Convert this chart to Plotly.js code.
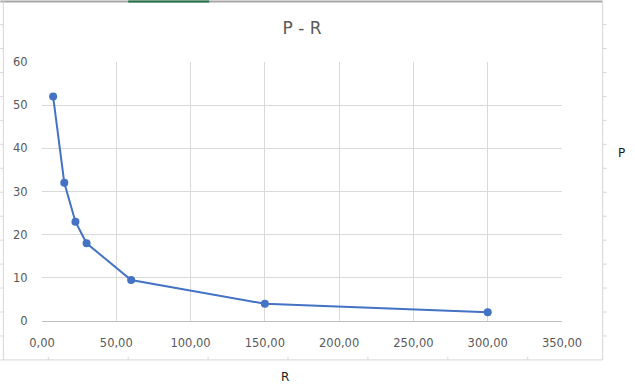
<!DOCTYPE html>
<html>
<head>
<meta charset="utf-8">
<script src="https://cdn.plot.ly/plotly-3.0.1.min.js"></script>
<style>html,body{margin:0;padding:0;background:#fff;}#chart{width:635px;height:388px;}</style>
</head>
<body>
<div id="chart"></div>
<script>
const R = [7.5, 15, 22.5, 30, 60, 150, 300];
const P = [52, 32, 23, 18, 9.5, 4, 2];
const chartTitle = "P - R";
const xTitle = "R";
const yTitle = "P";

const W = 635, H = 388;
const L = 41.7, Rr = 562.3, T = 61.5, B = 321;
const pw = Rr - L, ph = B - T;
const px = x => (x - L) / pw;
const py = y => (B - y) / ph;
const FONT = 'DejaVu Sans, Verdana, sans-serif';

const shapes = [];
function line(x0, y0, x1, y1, color, width) {
  shapes.push({type: 'line', xref: 'paper', yref: 'paper',
    x0: px(x0), y0: py(y0), x1: px(x1), y1: py(y1),
    line: {color: color, width: width}, layer: 'below'});
}
// spreadsheet surroundings
line(0, 1, 603, 1, '#a6a6a6', 2);
line(128, 1, 209, 1, '#217346', 2);
line(3, 0, 3, 360, '#d6d6d6', 1);
line(603, 0, 603, 360, '#d6d6d6', 1);
line(0, 360, 603, 360, '#d6d6d6', 1);
for (let y = 24; y < 360; y += 24) {
  line(0, y, 3, y, '#d6d6d6', 1);
  line(603, y, 607, y, '#d6d6d6', 1);
}
for (let x = 48; x < 603; x += 80) {
  line(x, 357, x, 360, '#d6d6d6', 1);
}

const trace = {
  x: R, y: P, type: 'scatter', mode: 'lines+markers',
  line: {color: '#4472C4', width: 2},
  marker: {color: '#4472C4', size: 8},
  hoverinfo: 'none'
};

const layout = {
  width: W, height: H,
  margin: {l: L, r: W - Rr, t: T, b: H - B, pad: 0},
  paper_bgcolor: '#ffffff', plot_bgcolor: '#ffffff',
  separators: ',.',
  showlegend: false,
  title: {text: chartTitle, x: 0.5, xref: 'paper', y: 1 - 28.5 / H, yref: 'container',
    yanchor: 'middle', xanchor: 'center',
    font: {family: FONT, size: 17, color: '#595959'}},
  font: {family: FONT, size: 11.5, color: '#595959'},
  xaxis: {range: [0, 350], dtick: 50, tick0: 0, tickformat: '.2f',
    showgrid: true, gridcolor: '#d9d9d9', gridwidth: 1,
    zeroline: false, showline: true, linecolor: '#bfbfbf', linewidth: 1,
    ticks: 'outside', ticklen: 11, tickcolor: 'rgba(0,0,0,0)',
    automargin: false, fixedrange: true},
  yaxis: {range: [0, 60], dtick: 10, tick0: 0,
    showgrid: true, gridcolor: '#d9d9d9', gridwidth: 1,
    zeroline: false, showline: false,
    ticks: 'outside', ticklen: 11, tickcolor: 'rgba(0,0,0,0)',
    automargin: false, fixedrange: true},
  shapes: shapes,
  annotations: [
    {text: xTitle, xref: 'paper', yref: 'paper', x: px(285), y: py(377.5),
     showarrow: false, xanchor: 'center', yanchor: 'middle',
     font: {family: FONT, size: 12, color: '#1a1a1a'}},
    {text: yTitle, xref: 'paper', yref: 'paper', x: px(622), y: py(153),
     showarrow: false, xanchor: 'center', yanchor: 'middle',
     font: {family: FONT, size: 12, color: '#1a1a1a'}}
  ]
};

Plotly.newPlot('chart', [trace], layout, {displayModeBar: false, staticPlot: true});
</script>
</body>
</html>
